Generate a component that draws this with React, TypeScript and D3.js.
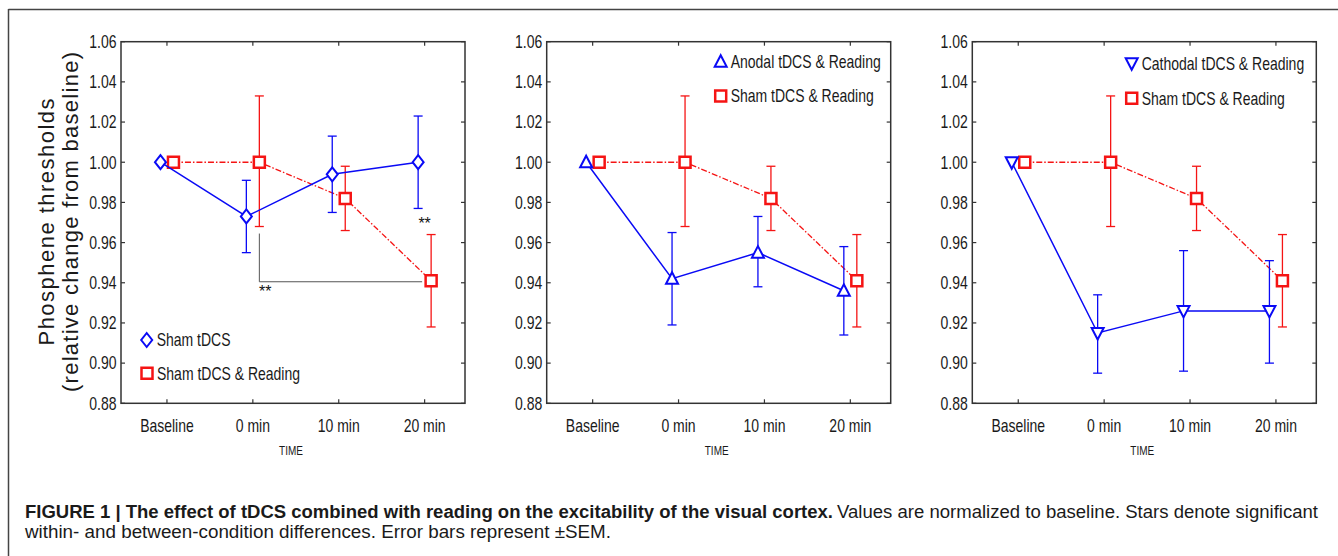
import React from "react";
import * as d3 from "d3";

// ---------- data ----------
const categories = ["Baseline", "0 min", "10 min", "20 min"];
const yTicks = [0.88, 0.9, 0.92, 0.94, 0.96, 0.98, 1.0, 1.02, 1.04, 1.06];

const shamReadingMean = [1.0, 1.0, 0.982, 0.941];
const shamReadingHi = [null, 1.033, 0.998, 0.964];
const shamReadingLo = [null, 0.968, 0.966, 0.918];

const shamMean = [1.0, 0.973, 0.994, 1.0];
const shamHi = [null, 0.991, 1.013, 1.023];
const shamLo = [null, 0.955, 0.975, 0.977];

const anodalMean = [1.0, 0.942, 0.955, 0.936];
const anodalHi = [null, 0.965, 0.973, 0.958];
const anodalLo = [null, 0.919, 0.938, 0.914];

const cathodalMean = [1.0, 0.915, 0.926, 0.926];
const cathodalHi = [null, 0.934, 0.956, 0.951];
const cathodalLo = [null, 0.895, 0.896, 0.9];

const legendSham = "Sham tDCS";
const legendShamReading = "Sham tDCS & Reading";
const legendAnodal = "Anodal tDCS & Reading";
const legendCathodal = "Cathodal tDCS & Reading";

const yTitle1 = "Phosphene thresholds";
const yTitle2 = "(relative change from baseline)";
const xTitle = "TIME";
const captionBold = "FIGURE 1 | The effect of tDCS combined with reading on the excitability of the visual cortex.";
const captionRest1 = "Values are normalized to baseline. Stars denote significant";
const captionLine2 = "within- and between-condition differences. Error bars represent \u00b1SEM.";

// ---------- style ----------
const BLUE = "#0a0af5";
const RED = "#f51414";
const AXIS = "#333";
const SANS = "'Liberation Sans', Arial, Helvetica, sans-serif";
const NARROW_SCALE = 0.8;

const PW = 344;
const PH = 361.6;
const TOP = 41.7;
const LEFTS = [121, 546.7, 972.3];
const OFF = 6.5;

const x = d3.scaleLinear().domain([-0.535, 3.47]).range([0, PW]);
const y = d3.scaleLinear().domain([0.88, 1.06]).range([PH, 0]);

type Shape = "diamond" | "square" | "triUp" | "triDown";

function NText({
  x: tx, y: ty, size, anchor, children, fill = "#1a1a1a",
}: { x: number; y: number; size: number; anchor?: "start" | "middle" | "end"; children: React.ReactNode; fill?: string }) {
  return (
    <text
      transform={`translate(${tx},${ty}) scale(${NARROW_SCALE},1)`}
      textAnchor={anchor || "start"}
      fontFamily={SANS}
      fontSize={size}
      fill={fill}
    >
      {children}
    </text>
  );
}

function Marker({ shape, cx, cy, color }: { shape: Shape; cx: number; cy: number; color: string }) {
  let d = "";
  if (shape === "diamond") d = `M${cx},${cy - 7}L${cx + 5.5},${cy}L${cx},${cy + 7}L${cx - 5.5},${cy}Z`;
  else if (shape === "square") d = `M${cx - 5.5},${cy - 5.5}h11v11h-11Z`;
  else if (shape === "triUp") d = `M${cx},${cy - 6.5}L${cx + 6},${cy + 5}L${cx - 6},${cy + 5}Z`;
  else d = `M${cx},${cy + 6.5}L${cx + 6},${cy - 5}L${cx - 6},${cy - 5}Z`;
  return <path d={d} fill="white" stroke={color} strokeWidth={shape === "square" ? 2.5 : 2} />;
}

function Series({
  mean, hi, lo, color, shape, dx, dash,
}: {
  mean: number[]; hi: (number | null)[]; lo: (number | null)[]; color: string; shape: Shape; dx: number; dash?: string;
}) {
  const line = d3.line<number>().x((_, i) => x(i) + dx).y((v) => y(v));
  return (
    <g>
      <path d={line(mean) || ""} fill="none" stroke={color} strokeWidth={dash ? 1.3 : 1.5} strokeDasharray={dash} />
      {mean.map((_, i) => {
        const h = hi[i];
        const l = lo[i];
        if (h == null || l == null) return null;
        const cx = x(i) + dx;
        return (
          <g key={"e" + i} stroke={color} strokeWidth={1.3}>
            <line x1={cx} x2={cx} y1={y(h)} y2={y(l)} />
            <line x1={cx - 4.5} x2={cx + 4.5} y1={y(h)} y2={y(h)} />
            <line x1={cx - 4.5} x2={cx + 4.5} y1={y(l)} y2={y(l)} />
          </g>
        );
      })}
      {mean.map((v, i) => (
        <Marker key={"m" + i} shape={shape} cx={x(i) + dx} cy={y(v)} color={color} />
      ))}
    </g>
  );
}

function Frame() {
  return (
    <g>
      <rect x={0} y={0} width={PW} height={PH} fill="none" stroke={AXIS} strokeWidth={1.5} />
      {yTicks.map((t) => (
        <g key={t}>
          <line x1={0} x2={4} y1={y(t)} y2={y(t)} stroke={AXIS} strokeWidth={1.2} />
          <line x1={PW - 4} x2={PW} y1={y(t)} y2={y(t)} stroke={AXIS} strokeWidth={1.2} />
          <NText x={-4.5} y={y(t) + 6.3} size={17.5} anchor="end">
            {t.toFixed(2)}
          </NText>
        </g>
      ))}
      {categories.map((c, i) => (
        <g key={c}>
          <line x1={x(i)} x2={x(i)} y1={0} y2={4} stroke={AXIS} strokeWidth={1.2} />
          <line x1={x(i)} x2={x(i)} y1={PH - 4} y2={PH} stroke={AXIS} strokeWidth={1.2} />
          <NText x={x(i)} y={PH + 28.5} size={17.5} anchor="middle">
            {c}
          </NText>
        </g>
      ))}
      <NText x={PW / 2 - 2} y={PH + 51.5} size={12.5} anchor="middle">
        {xTitle}
      </NText>
    </g>
  );
}

function LegendItem({ lx, ly, shape, color, label }: { lx: number; ly: number; shape: Shape; color: string; label: string }) {
  return (
    <g>
      <Marker shape={shape} cx={lx} cy={ly} color={color} />
      <NText x={lx + 10} y={ly + 6.3} size={17.5}>
        {label}
      </NText>
    </g>
  );
}

export default function App() {
  const dash = "6,2,1.5,2";
  return (
    <svg
      width={1338}
      height={556}
      style={{ position: "absolute", left: 0, top: 0, background: "white" }}
    >
      <rect x={0} y={0} width={1338} height={556} fill="white" />
      {/* outer frame */}
      <line x1={8.5} x2={1338} y1={9.5} y2={9.5} stroke="#444" strokeWidth={1.5} />
      <line x1={8.5} x2={8.5} y1={9} y2={556} stroke="#444" strokeWidth={1.5} />

      {/* y title */}
      <text transform={`translate(53.5,222) rotate(-90)`} textAnchor="middle" fontFamily={SANS} fontSize={22}
        fill="#1a1a1a" textLength={247} lengthAdjust="spacing">
        {yTitle1}
      </text>
      <text transform={`translate(77.5,222) rotate(-90)`} textAnchor="middle" fontFamily={SANS} fontSize={22}
        fill="#1a1a1a" textLength={340} lengthAdjust="spacing">
        {yTitle2}
      </text>

      {/* Panel 1 */}
      <g transform={`translate(${LEFTS[0]},${TOP})`}>
        <Frame />
        <g stroke="#555" strokeWidth={1} fill="none">
          <path d={`M${x(1) + OFF},${y(0.9645)}V${y(0.9405)}H${x(3) + OFF - 9}`} />
        </g>
        <text x={x(1) + OFF + 6} y={y(0.9405) + 15} textAnchor="middle" fontFamily={SANS} fontSize={16} fill="#111">**</text>
        <text x={x(3)} y={y(0.969) + 5} textAnchor="middle" fontFamily={SANS} fontSize={16} fill="#111">**</text>
        <Series mean={shamReadingMean} hi={shamReadingHi} lo={shamReadingLo} color={RED} shape="square" dx={OFF} dash={dash} />
        <Series mean={shamMean} hi={shamHi} lo={shamLo} color={BLUE} shape="diamond" dx={-OFF} />
        <LegendItem lx={25.7} ly={298.3} shape="diamond" color={BLUE} label={legendSham} />
        <LegendItem lx={26} ly={331.6} shape="square" color={RED} label={legendShamReading} />
      </g>

      {/* Panel 2 */}
      <g transform={`translate(${LEFTS[1]},${TOP})`}>
        <Frame />
        <Series mean={shamReadingMean} hi={shamReadingHi} lo={shamReadingLo} color={RED} shape="square" dx={OFF} dash={dash} />
        <Series mean={anodalMean} hi={anodalHi} lo={anodalLo} color={BLUE} shape="triUp" dx={-OFF} />
        <LegendItem lx={174} ly={20} shape="triUp" color={BLUE} label={legendAnodal} />
        <LegendItem lx={174} ly={54.3} shape="square" color={RED} label={legendShamReading} />
      </g>

      {/* Panel 3 */}
      <g transform={`translate(${LEFTS[2]},${TOP})`}>
        <Frame />
        <Series mean={shamReadingMean} hi={shamReadingHi} lo={shamReadingLo} color={RED} shape="square" dx={OFF} dash={dash} />
        <Series mean={cathodalMean} hi={cathodalHi} lo={cathodalLo} color={BLUE} shape="triDown" dx={-OFF} />
        <LegendItem lx={159.4} ly={21.6} shape="triDown" color={BLUE} label={legendCathodal} />
        <LegendItem lx={159.4} ly={56.6} shape="square" color={RED} label={legendShamReading} />
      </g>

      {/* caption */}
      <text y={517.5} fontFamily={SANS} fontSize={17.5} fill="#1a1a1a">
        <tspan x={25} fontWeight="bold" textLength={808} lengthAdjust="spacingAndGlyphs">{captionBold}</tspan>
        <tspan x={837} textLength={481} lengthAdjust="spacingAndGlyphs">{captionRest1}</tspan>
      </text>
      <text x={25} y={537.5} fontFamily={SANS} fontSize={17.5} fill="#1a1a1a" textLength={586} lengthAdjust="spacingAndGlyphs">
        {captionLine2}
      </text>
    </svg>
  );
}
